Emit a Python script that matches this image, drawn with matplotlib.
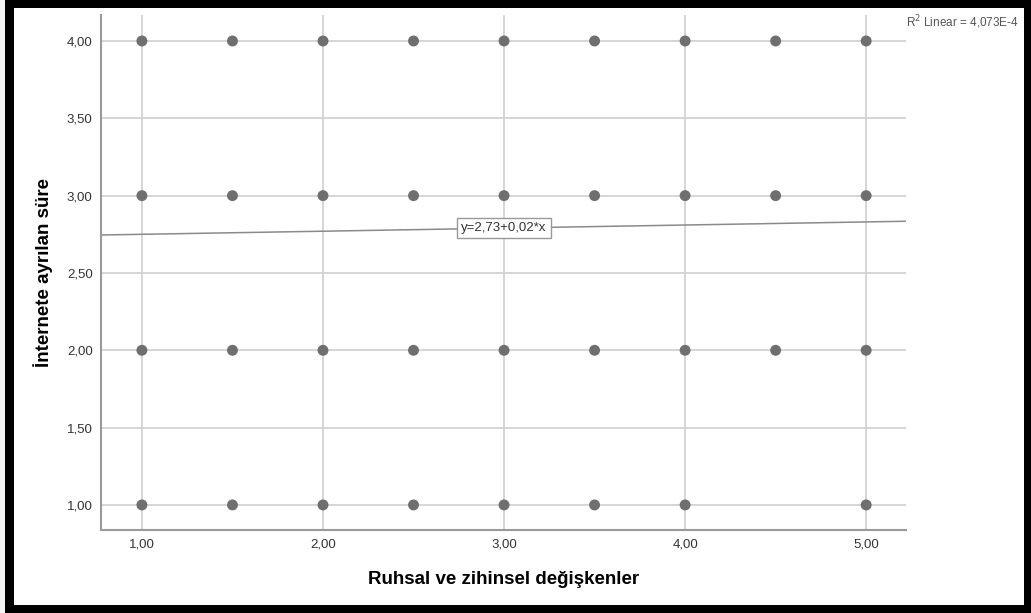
import matplotlib.pyplot as plt
import numpy as np
from matplotlib.patches import Rectangle

plt.rcParams["font.family"] = ["Liberation Sans", "DejaVu Sans"]

# Observed combinations (x = Ruhsal ve zihinsel, y = internete ayrılan süre)
x_levels = [1.0, 1.5, 2.0, 2.5, 3.0, 3.5, 4.0, 4.5, 5.0]
y1_x = [1.0, 1.5, 2.0, 2.5, 3.0, 3.5, 4.0, 5.0]
y2_x = x_levels
y3_x = x_levels
y4_x = x_levels

intercept = 2.73
slope = 0.02
r2_text = "R$^2$ Linear = 4,073E-4"

xs = np.array(y1_x + y2_x + y3_x + y4_x)
ys = np.array([1.0] * len(y1_x) + [2.0] * len(y2_x) + [3.0] * len(y3_x) + [4.0] * len(y4_x))

fig = plt.figure(figsize=(10.31, 6.13), dpi=100)
fig.patch.set_facecolor("white")
ax = fig.add_axes([101 / 1031, 83 / 613, 805 / 1031, 515 / 613])

xlim = (0.774, 5.22)
ylim = (0.838, 4.168)
ax.set_xlim(*xlim)
ax.set_ylim(*ylim)

grid_c = "#d2d2d2"
for v in [1, 2, 3, 4, 5]:
    ax.axvline(v, color=grid_c, lw=1.3, zorder=1)
for v in np.arange(1.0, 4.01, 0.5):
    ax.axhline(v, color=grid_c, lw=1.3, zorder=1)

ax.scatter(xs, ys, s=62, color="#6f6f6f", edgecolors="none", zorder=3)

# fit line across full x range
lx = np.array(xlim)
ax.plot(lx, intercept + slope * lx, color="#8a8a8a", lw=1.1, zorder=2)
ax.text(3.0, intercept + slope * 3.0, "y=2,73+0,02*x", ha="center", va="center",
        fontsize=9.5, color="#333333", zorder=4,
        bbox=dict(boxstyle="square,pad=0.3", facecolor="white", edgecolor="#999999", lw=1))

ax.set_xticks([1, 2, 3, 4, 5])
ax.set_xticklabels(["1,00", "2,00", "3,00", "4,00", "5,00"])
ax.set_yticks(np.arange(1.0, 4.01, 0.5))
ax.set_yticklabels(["1,00", "1,50", "2,00", "2,50", "3,00", "3,50", "4,00"])
ax.tick_params(length=0, labelsize=9.5, colors="#333333", pad=6)
for side in ["top", "right"]:
    ax.spines[side].set_visible(False)
for side in ["left", "bottom"]:
    ax.spines[side].set_color("#9a9a9a")
    ax.spines[side].set_linewidth(1.5)

ax.set_xlabel("Ruhsal ve zihinsel değişkenler", fontsize=13.5, fontweight="bold", labelpad=15)
ax.set_ylabel("İnternete ayrılan süre", fontsize=13.5, fontweight="bold", labelpad=10)

fig.text(906 / 1031, 1 - 22 / 613, r2_text, fontsize=8.5, color="#555555", ha="left", va="center")

# black frame round the figure
W, H = 1031, 613
for (x0, y0, w, h) in [(0, H - 8, W, 8), (5, 0, 9, H), (1024, 0, 7, H), (0, 0, W, 8)]:
    fig.patches.append(Rectangle((x0 / W, y0 / H), w / W, h / H, transform=fig.transFigure,
                                 facecolor="black", edgecolor="none", zorder=10))
fig.patches.append(Rectangle((0, 0), 5 / W, 1, transform=fig.transFigure,
                             facecolor="#f4f4f4", edgecolor="none", zorder=10))

fig.savefig("out.png", dpi=100)
